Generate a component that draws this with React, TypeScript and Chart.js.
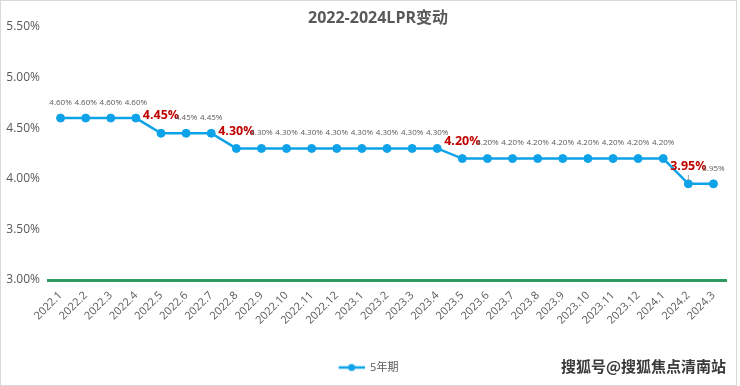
import { useEffect, useRef } from "react";
import { Chart, registerables } from "chart.js";

Chart.register(...registerables);

const FONT = '"Open Sans", "Noto Sans CJK SC", sans-serif';

const chartTitle = "2022-2024LPR变动";
const seriesName = "5年期";
const categories = [
  "2022.1", "2022.2", "2022.3", "2022.4", "2022.5", "2022.6", "2022.7", "2022.8", "2022.9",
  "2022.10", "2022.11", "2022.12", "2023.1", "2023.2", "2023.3", "2023.4", "2023.5", "2023.6",
  "2023.7", "2023.8", "2023.9", "2023.10", "2023.11", "2023.12", "2024.1", "2024.2", "2024.3",
];
const rates = [
  4.6, 4.6, 4.6, 4.6, 4.45, 4.45, 4.45, 4.3, 4.3,
  4.3, 4.3, 4.3, 4.3, 4.3, 4.3, 4.3, 4.2, 4.2,
  4.2, 4.2, 4.2, 4.2, 4.2, 4.2, 4.2, 3.95, 3.95,
];
// indices where the rate changed (red highlighted labels)
const changeIndices = [4, 7, 16, 25];
const leaderIndices = [25];
const yTicks = [3.0, 3.5, 4.0, 4.5, 5.0, 5.5];
const watermark = "搜狐号@搜狐焦点清南站";

const LINE_COLOR = "#0EA2E8";
const AXIS_GREEN = "#2E9A5E";
const TEXT_GRAY = "#595959";

const titlePlugin = {
  id: "customTitle",
  afterDraw(chart: any) {
    const ctx = chart.ctx as CanvasRenderingContext2D;
    ctx.save();
    ctx.font = `bold 16px ${FONT}`;
    ctx.fillStyle = TEXT_GRAY;
    ctx.textAlign = "center";
    ctx.textBaseline = "middle";
    ctx.fillText(chartTitle, chart.width / 2 + 8, 18);
    ctx.restore();
  },
};

const labelPlugin = {
  id: "valueLabels",
  afterDatasetsDraw(chart: any) {
    const ctx = chart.ctx as CanvasRenderingContext2D;
    const meta = chart.getDatasetMeta(0);
    meta.data.forEach((pt: any, i: number) => {
      const text = rates[i].toFixed(2) + "%";
      const hi = changeIndices.includes(i);
      ctx.save();
      ctx.textAlign = "center";
      ctx.textBaseline = "middle";
      if (hi) {
        ctx.font = `bold 12.5px ${FONT}`;
        ctx.fillStyle = "#C00000";
        ctx.fillText(text, pt.x, pt.y - 17.5);
        if (leaderIndices.includes(i)) {
          ctx.strokeStyle = "#8c8c8c";
          ctx.lineWidth = 0.8;
          ctx.beginPath();
          ctx.moveTo(pt.x, pt.y - 9);
          ctx.lineTo(pt.x, pt.y - 3);
          ctx.stroke();
        }
      } else {
        ctx.font = `8px ${FONT}`;
        ctx.fillStyle = TEXT_GRAY;
        ctx.fillText(text, pt.x, pt.y - 15.5);
      }
      ctx.restore();
    });
  },
};

export default function App() {
  const canvasRef = useRef<HTMLCanvasElement | null>(null);

  useEffect(() => {
    if (!canvasRef.current) return;
    // legend symbol: line with a circle marker, with a transparent lead-in on the left
    const lead = 11;
    const legendImg = document.createElement("canvas");
    legendImg.width = 26 + lead;
    legendImg.height = 10;
    const lc = legendImg.getContext("2d")!;
    lc.strokeStyle = LINE_COLOR;
    lc.lineWidth = 2.5;
    lc.beginPath();
    lc.moveTo(lead, 5);
    lc.lineTo(lead + 26, 5);
    lc.stroke();
    lc.fillStyle = LINE_COLOR;
    lc.beginPath();
    lc.arc(lead + 13, 5, 3.5, 0, Math.PI * 2);
    lc.fill();

    Chart.defaults.font.family = FONT;

    const chart = new Chart(canvasRef.current, {
      type: "line",
      data: {
        labels: categories,
        datasets: [
          {
            label: seriesName,
            data: rates,
            borderColor: LINE_COLOR,
            backgroundColor: LINE_COLOR,
            borderWidth: 2.5,
            pointRadius: 4,
            pointBackgroundColor: LINE_COLOR,
            pointBorderColor: LINE_COLOR,
            pointBorderWidth: 1,
            tension: 0,
            clip: false as any,
          },
        ],
      },
      options: {
        animation: false,
        responsive: true,
        maintainAspectRatio: false,
        layout: { padding: { left: 0, right: 14, top: 27, bottom: 3 } },
        plugins: {
          title: { display: false },
          legend: {
            display: true,
            position: "bottom",
            labels: {
              usePointStyle: true,
              pointStyle: legendImg as any,
              pointStyleWidth: 26 + lead,
              boxHeight: 10,
              color: TEXT_GRAY,
              font: { size: 11, family: FONT },
              padding: 10,
            },
          },
          tooltip: { enabled: false },
        },
        scales: {
          x: {
            type: "category",
            offset: true,
            grid: { display: false, drawTicks: false },
            border: { display: true, color: AXIS_GREEN, width: 3 },
            ticks: {
              color: TEXT_GRAY,
              font: { size: 11, family: FONT },
              maxRotation: 45,
              minRotation: 45,
              autoSkip: false,
              padding: 9,
            },
            afterFit: (scale: any) => {
              scale.height = 72;
            },
          },
          y: {
            min: 3,
            max: 5.5,
            grid: { display: false, drawTicks: false },
            border: { display: false },
            afterBuildTicks: (scale: any) => {
              scale.ticks = yTicks.map((v) => ({ value: v }));
            },
            ticks: {
              color: TEXT_GRAY,
              font: { size: 12, family: FONT },
              padding: 8,
              callback: (v: any) => Number(v).toFixed(2) + "%",
            },
            afterFit: (scale: any) => {
              scale.width = 48;
            },
          },
        },
      },
      plugins: [labelPlugin, titlePlugin],
    });
    return () => chart.destroy();
  }, []);

  return (
    <div
      style={{
        position: "absolute",
        left: 0,
        top: 0,
        width: 740,
        height: 386,
        background: "#ffffff",
      }}
    >
      <canvas ref={canvasRef} />
      <div
        style={{
          position: "absolute",
          left: 0,
          top: 0,
          width: 737,
          height: 386,
          boxSizing: "border-box",
          border: "1px solid #d9d9d9",
          pointerEvents: "none",
        }}
      />
      <div
        style={{
          position: "absolute",
          left: 561,
          top: 356,
          fontFamily: '"Noto Sans CJK SC", sans-serif',
          fontSize: 15,
          fontWeight: 700,
          lineHeight: "20px",
          color: "#3a3a3a",
          whiteSpace: "nowrap",
          textShadow: "0 0 2px #ffffff",
        }}
      >
        {watermark}
      </div>
    </div>
  );
}
